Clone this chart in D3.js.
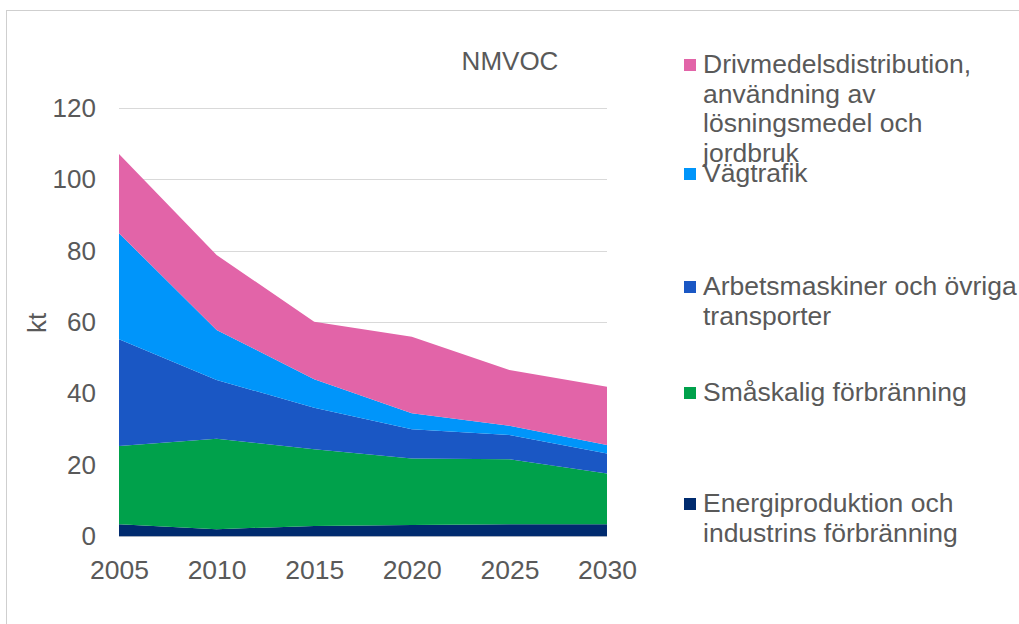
<!DOCTYPE html>
<html>
<head>
<meta charset="utf-8">
<script src="https://cdn.jsdelivr.net/npm/d3@7"></script>
<style>
  html, body { margin: 0; padding: 0; background: #fff; }
  svg { display: block; }
  text { font-family: "Liberation Sans", Arial, sans-serif; fill: #595959; }
</style>
</head>
<body>
<svg id="chart" width="1019" height="624"></svg>
<script>
// ---- Data ----
const years = [2005, 2010, 2015, 2020, 2025, 2030];
const energi = [3.4, 2.0, 2.9, 3.2, 3.4, 3.4];
const smaskalig = [21.9, 25.3, 21.5, 18.6, 18.2, 14.2];
const arbetsmaskiner = [29.9, 16.5, 11.6, 8.2, 6.8, 5.6];
const vagtrafik = [29.7, 14.0, 8.0, 4.5, 2.6, 2.4];
const drivmedel = [22.2, 21.0, 16.1, 21.4, 15.6, 16.3];
const yTicks = [0, 20, 40, 60, 80, 100, 120];
const xTicks = [2005, 2010, 2015, 2020, 2025, 2030];
const title = "NMVOC";
const yTitle = "kt";

// stacking order bottom -> top
const seriesKeys = ["energi", "smaskalig", "arbetsmaskiner", "vagtrafik", "drivmedel"];
const seriesValues = { energi, smaskalig, arbetsmaskiner, vagtrafik, drivmedel };
const colors = {
  energi: "#002B6F",
  smaskalig: "#00A14B",
  arbetsmaskiner: "#1A57C4",
  vagtrafik: "#0095FA",
  drivmedel: "#E264A8"
};
// legend order top -> bottom
const legendItems = [
  { key: "drivmedel", lines: ["Drivmedelsdistribution,", "användning av", "lösningsmedel och", "jordbruk"] },
  { key: "vagtrafik", lines: ["Vägtrafik"] },
  { key: "arbetsmaskiner", lines: ["Arbetsmaskiner och övriga", "transporter"] },
  { key: "smaskalig", lines: ["Småskalig förbränning"] },
  { key: "energi", lines: ["Energiproduktion och", "industrins förbränning"] }
];

const table = years.map((y, i) => {
  const row = { year: y };
  seriesKeys.forEach(k => row[k] = seriesValues[k][i]);
  return row;
});

const svg = d3.select("#chart");

// frame
svg.append("rect")
  .attr("x", 6.5).attr("y", 10.5)
  .attr("width", 1100).attr("height", 700)
  .attr("fill", "none").attr("stroke", "#cfcfcf").attr("stroke-width", 1);

const x = d3.scaleLinear().domain([2005, 2030]).range([119, 607]);
const y = d3.scaleLinear().domain([0, 120]).range([536.3, 107.9]);

// gridlines
svg.append("g").selectAll("line")
  .data(yTicks)
  .join("line")
  .attr("x1", x(2005)).attr("x2", x(2030))
  .attr("y1", d => Math.round(y(d)) + 0.5).attr("y2", d => Math.round(y(d)) + 0.5)
  .attr("stroke", "#d9d9d9").attr("stroke-width", 1.2);

// stacked areas
const stack = d3.stack().keys(seriesKeys);
const stacked = stack(table);
const area = d3.area()
  .x(d => x(d.data.year))
  .y0(d => y(d[0]))
  .y1(d => y(d[1]));

svg.append("g").selectAll("path")
  .data(stacked)
  .join("path")
  .attr("d", area)
  .attr("fill", d => colors[d.key]);

// y axis labels
const yAxis = d3.axisLeft(y).tickValues(yTicks).tickSize(0).tickPadding(0);
const yg = svg.append("g").attr("transform", "translate(96,0)").call(yAxis);
yg.select(".domain").remove();
yg.selectAll("text")
  .attr("font-size", 26)
  .attr("fill", "#595959")
  .style("font-family", '"Liberation Sans", Arial, sans-serif');

// x axis labels
const xAxis = d3.axisBottom(x).tickValues(xTicks).tickFormat(d3.format("d")).tickSize(0).tickPadding(0);
const xg = svg.append("g").attr("transform", "translate(0,560)").call(xAxis);
xg.select(".domain").remove();
xg.selectAll("text")
  .attr("font-size", 26.5)
  .attr("fill", "#595959")
  .style("font-family", '"Liberation Sans", Arial, sans-serif');

// title
svg.append("text")
  .attr("x", 510).attr("y", 70)
  .attr("text-anchor", "middle")
  .attr("font-size", 26)
  .text(title);

// y-axis title
svg.append("text")
  .attr("transform", "translate(46,323) rotate(-90)")
  .attr("text-anchor", "middle")
  .attr("font-size", 26)
  .text(yTitle);

// legend
const legendBaselines = [73, 182, 295, 401, 512];
const lineH = 29.5;
const lg = svg.append("g");
legendItems.forEach((item, i) => {
  const by = legendBaselines[i];
  lg.append("rect")
    .attr("x", 684).attr("y", by - 14)
    .attr("width", 12).attr("height", 12)
    .attr("fill", colors[item.key]);
  const t = lg.append("text")
    .attr("x", 703).attr("y", by)
    .attr("font-size", 26.5);
  item.lines.forEach((ln, j) => {
    t.append("tspan").attr("x", 703).attr("y", by + j * lineH).text(ln);
  });
});
</script>
</body>
</html>
